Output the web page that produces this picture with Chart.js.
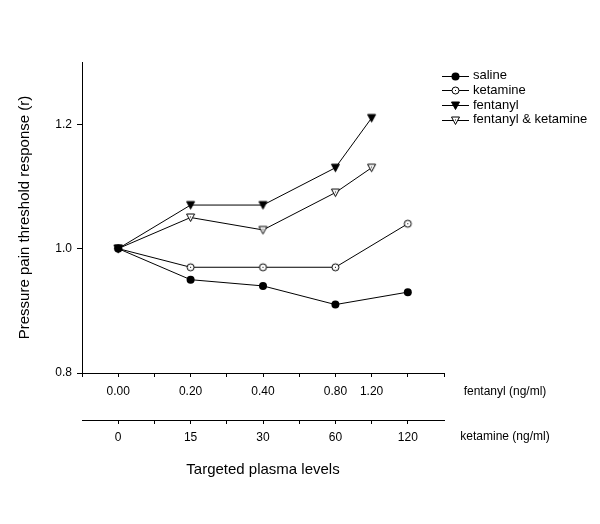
<!DOCTYPE html>
<html>
<head>
<meta charset="utf-8">
<script src="https://cdn.jsdelivr.net/npm/chart.js@4/dist/chart.umd.min.js"></script>
<style>
  html, body { margin: 0; padding: 0; background: #fff; }
  #wrap { width: 600px; height: 524px; }
</style>
</head>
<body>
<div id="wrap"><canvas id="grafica" width="600" height="524"></canvas></div>
<script>
// Niveles objetivo (posiciones en el eje común)
const fentanylLevels = ['0.00', '0.20', '0.40', '0.80', '1.20'];
const fentanylSlots = [0, 2, 4, 6, 7];
const ketamineLevels = ['0', '15', '30', '60', '120'];
const ketamineSlots = [0, 2, 4, 6, 8];

// Series (respuesta del umbral de dolor, r)
const saline = [1.00, 0.95, 0.94, 0.91, 0.93];
const ketamine = [1.00, 0.97, 0.97, 0.97, 1.04];
const fentanyl = [1.00, 1.07, 1.07, 1.13, 1.21];
const fentanylKetamine = [1.00, 1.05, 1.03, 1.09, 1.13];

const yTicks = [0.8, 1.0, 1.2];

const FONT = "'Liberation Sans', Arial, sans-serif";
Chart.defaults.font.family = FONT;
Chart.defaults.color = '#000';

// Marcadores dibujados a mano
function makeMarker(draw) {
    const c = document.createElement('canvas');
    c.width = 11;
    c.height = 11;
    const g = c.getContext('2d');
    g.strokeStyle = '#000';
    g.lineWidth = 1;
    draw(g);
    return c;
}
const openDot = makeMarker(g => {
    g.beginPath();
    g.arc(5.5, 5.5, 3.5, 0, Math.PI * 2);
    g.fillStyle = '#fff';
    g.fill();
    g.stroke();
    g.fillStyle = '#000';
    g.fillRect(5, 5, 1, 1);
});
const filledTri = makeMarker(g => {
    g.beginPath();
    g.moveTo(1.5, 2);
    g.lineTo(9.5, 2);
    g.lineTo(5.5, 9.5);
    g.closePath();
    g.fillStyle = '#000';
    g.fill();
    g.stroke();
});
const openTri = makeMarker(g => {
    g.beginPath();
    g.moveTo(1.5, 2);
    g.lineTo(9.5, 2);
    g.lineTo(5.5, 9.5);
    g.closePath();
    g.fillStyle = '#fff';
    g.fill();
    g.stroke();
    g.fillStyle = '#000';
    g.fillRect(5, 4.5, 1, 1);
});

function serie(label, slots, values, style) {
    return {
        label: label,
        data: values.map((v, i) => ({ x: slots[i], y: v })),
        borderColor: '#000',
        borderWidth: 1,
        backgroundColor: '#000',
        pointStyle: style,
        pointRadius: 4,
        pointBackgroundColor: '#000',
        pointBorderColor: '#000',
        pointBorderWidth: 0,
        tension: 0,
        fill: false
    };
}

const datasets = [
    serie('saline', ketamineSlots, saline, 'circle'),
    serie('ketamine', ketamineSlots, ketamine, openDot),
    serie('fentanyl', fentanylSlots, fentanyl, filledTri),
    serie('fentanyl & ketamine', fentanylSlots, fentanylKetamine, openTri)
];

// Leyenda arriba a la derecha
const leyenda = {
    id: 'leyenda',
    afterDraw(chart) {
        const ctx = chart.ctx;
        ctx.save();
        ctx.font = '13px ' + FONT;
        ctx.textBaseline = 'middle';
        ctx.fillStyle = '#000';
        chart.data.datasets.forEach((ds, i) => {
            const y = 75.5 + i * 14.8;
            ctx.strokeStyle = '#000';
            ctx.lineWidth = 1;
            ctx.beginPath();
            ctx.moveTo(442, Math.round(y) + 0.5);
            ctx.lineTo(469, Math.round(y) + 0.5);
            ctx.stroke();
            if (ds.pointStyle === 'circle') {
                ctx.beginPath();
                ctx.arc(455.5, Math.round(y) + 0.5, 4, 0, Math.PI * 2);
                ctx.fill();
            } else {
                ctx.drawImage(ds.pointStyle, 450, Math.round(y) - 5);
            }
            ctx.fillText(ds.label, 473, y);
        });
        ctx.restore();
    }
};

// Nombres de los ejes de concentración, a la derecha de cada eje
const nombresEjes = {
    id: 'nombresEjes',
    afterDraw(chart) {
        const ctx = chart.ctx;
        ctx.save();
        ctx.font = '12px ' + FONT;
        ctx.fillStyle = '#000';
        ctx.textAlign = 'center';
        ctx.textBaseline = 'middle';
        ctx.fillText('fentanyl (ng/ml)', 505, chart.scales.x.top + 18.5);
        ctx.fillText('ketamine (ng/ml)', 505, chart.scales.x2.top + 17);
        ctx.restore();
    }
};

const tickGrid = { drawOnChartArea: false, color: '#000', tickColor: '#000', tickLength: 4 };

new Chart(document.getElementById('grafica'), {
    type: 'line',
    data: { datasets: datasets },
    options: {
        responsive: false,
        animation: false,
        devicePixelRatio: 1,
        layout: { padding: { top: 62, right: 156, bottom: 0, left: 0 } },
        plugins: {
            legend: { display: false },
            tooltip: { enabled: false }
        },
        scales: {
            x: {
                type: 'linear',
                position: 'bottom',
                weight: 0,
                min: -1,
                max: 9,
                grid: tickGrid,
                border: { display: true, color: '#000', width: 1 },
                ticks: {
                    stepSize: 1,
                    autoSkip: false,
                    maxRotation: 0,
                    padding: 7,
                    font: { size: 12 },
                    callback: v => {
                        const i = fentanylSlots.indexOf(v);
                        return i >= 0 ? fentanylLevels[i] : '';
                    }
                },
                afterFit: axis => { axis.height = 47; }
            },
            x2: {
                type: 'linear',
                position: 'bottom',
                weight: 1,
                min: -1,
                max: 9,
                grid: tickGrid,
                border: { display: true, color: '#000', width: 1 },
                ticks: {
                    stepSize: 1,
                    autoSkip: false,
                    maxRotation: 0,
                    padding: 6,
                    font: { size: 12 },
                    callback: v => {
                        const i = ketamineSlots.indexOf(v);
                        return i >= 0 ? ketamineLevels[i] : '';
                    }
                },
                afterBuildTicks: axis => {
                    axis.ticks = axis.ticks.filter(t => t.value >= 0 && t.value <= 8);
                },
                title: {
                    display: true,
                    text: 'Targeted plasma levels',
                    font: { size: 15 },
                    padding: { top: 0, bottom: 45 }
                },
                afterFit: axis => { axis.height = 104; }
            },
            y: {
                min: 0.8,
                max: 1.3,
                grid: { drawOnChartArea: false, color: '#000', tickColor: '#000', tickLength: 5 },
                border: { display: true, color: '#000', width: 1 },
                afterBuildTicks: axis => {
                    axis.ticks = yTicks.map(v => ({ value: v }));
                },
                ticks: {
                    padding: 5,
                    font: { size: 12 },
                    callback: v => v.toFixed(1)
                },
                title: {
                    display: true,
                    text: 'Pressure pain threshold response (r)',
                    font: { size: 15 },
                    padding: { top: 15.5, bottom: 0 }
                },
                afterFit: axis => { axis.width = 82; }
            }
        }
    },
    plugins: [leyenda, nombresEjes]
});
</script>
</body>
</html>
